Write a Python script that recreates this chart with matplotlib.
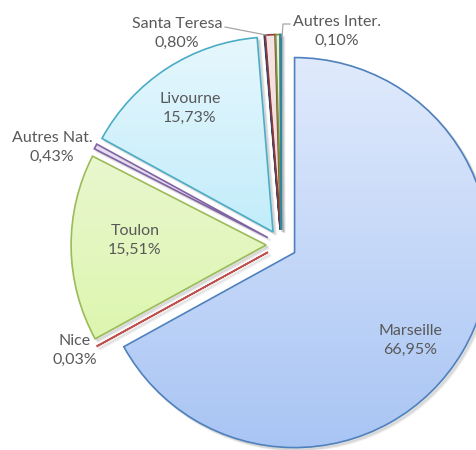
import numpy as np
import matplotlib
matplotlib.use("Agg")
import matplotlib.pyplot as plt
from matplotlib.patches import Wedge
from matplotlib.colors import LinearSegmentedColormap

# data (clockwise from 12 o'clock)
ports = ["Marseille", "Nice", "Toulon", "Autres Nat.", "Livourne",
         "", "Santa Teresa", "", "Autres Inter."]
shares = [66.95, 0.03, 15.51, 0.43, 15.73, 0.05, 0.80, 0.35, 0.10]
pct_labels = ["66,95%", "0,03%", "15,51%", "0,43%", "15,73%",
              "", "0,80%", "", "0,10%"]

# styles
edges = ["#4f81bd", "#c0504d", "#9bbb59", "#8064a2", "#4bacc6",
         "#1f497d", "#943634", "#76923c", "#31859c"]
fill_top = ["#e0eafc", "#f2dcdb", "#f0f8e0", "#ebe4f3", "#e6f7fd",
            "#c6d9f1", "#f4e4e3", "#ebf1de", "#daeef3"]
fill_bot = ["#a9c5f4", "#e6b9b8", "#d6f59e", "#d9cde9", "#9ee2f8",
            "#8db3e2", "#ebcdcc", "#d7e4bd", "#b7dee8"]
text_col = "#595959"
FS = 11.5
H = 450

fig = plt.figure(figsize=[4.77, 4.5], dpi=100, facecolor="white")
ax = fig.add_axes([0, 0, 1, 1])

center = (281.4, H - 244.8)
R = 195
explode = [15.3] * len(shares)  # pie offsets in data units

wedges, _ = ax.pie(shares, radius=R, center=center, startangle=90,
                   counterclock=False, explode=explode,
                   wedgeprops=dict(facecolor="none", linewidth=1.2))

grad = np.linspace(0, 1, 256).reshape(-1, 1)
for w, ec, c0, c1 in zip(wedges, edges, fill_top, fill_bot):
    w.set_edgecolor(ec)
    w.set_zorder(5)
    cx, cy = w.center
    # soft shadow
    for off, a in [(3, 0.10), (2, 0.12)]:
        s = Wedge((cx + off, cy - off), w.r, w.theta1, w.theta2,
                  facecolor="#7f7f7f", edgecolor="#7f7f7f", lw=1.5,
                  alpha=a, zorder=2)
        ax.add_patch(s)
    # gradient fill clipped to wedge
    cmap = LinearSegmentedColormap.from_list("g", [c1, c0])
    im = ax.imshow(grad, cmap=cmap, origin="lower", aspect="auto",
                   extent=[cx - R, cx + R, cy - R, cy + R], zorder=4)
    clip = Wedge((cx, cy), w.r, w.theta1, w.theta2, transform=ax.transData)
    im.set_clip_path(clip)

# label positions (pixels from top-left)
label_pos = {"Marseille": (410, 340), "Toulon": (135, 240),
             "Livourne": (190, 108), "Nice": (75, 350),
             "Autres Nat.": (52, 147), "Santa Teresa": (177, 33),
             "Autres Inter.": (337, 31)}
for name, pct in zip(ports, pct_labels):
    if name in label_pos:
        x, y = label_pos[name]
        ax.text(x, H - y, f"{name}\n{pct}", ha="center", va="center",
                fontsize=FS, color=text_col, family="Lato",
                linespacing=1.45, zorder=10)

# leader lines
ax.plot([225, 266], [H - 27, H - 35], color="#a6a6a6", lw=0.9, zorder=6)
ax.plot([282, 283, 290], [H - 37, H - 24, H - 24], color="#a6a6a6",
        lw=0.9, zorder=6)

ax.set_xlim(0, 477)
ax.set_ylim(0, H)
ax.set_aspect("equal")
ax.axis("off")

fig.savefig("out.png", dpi=100)
